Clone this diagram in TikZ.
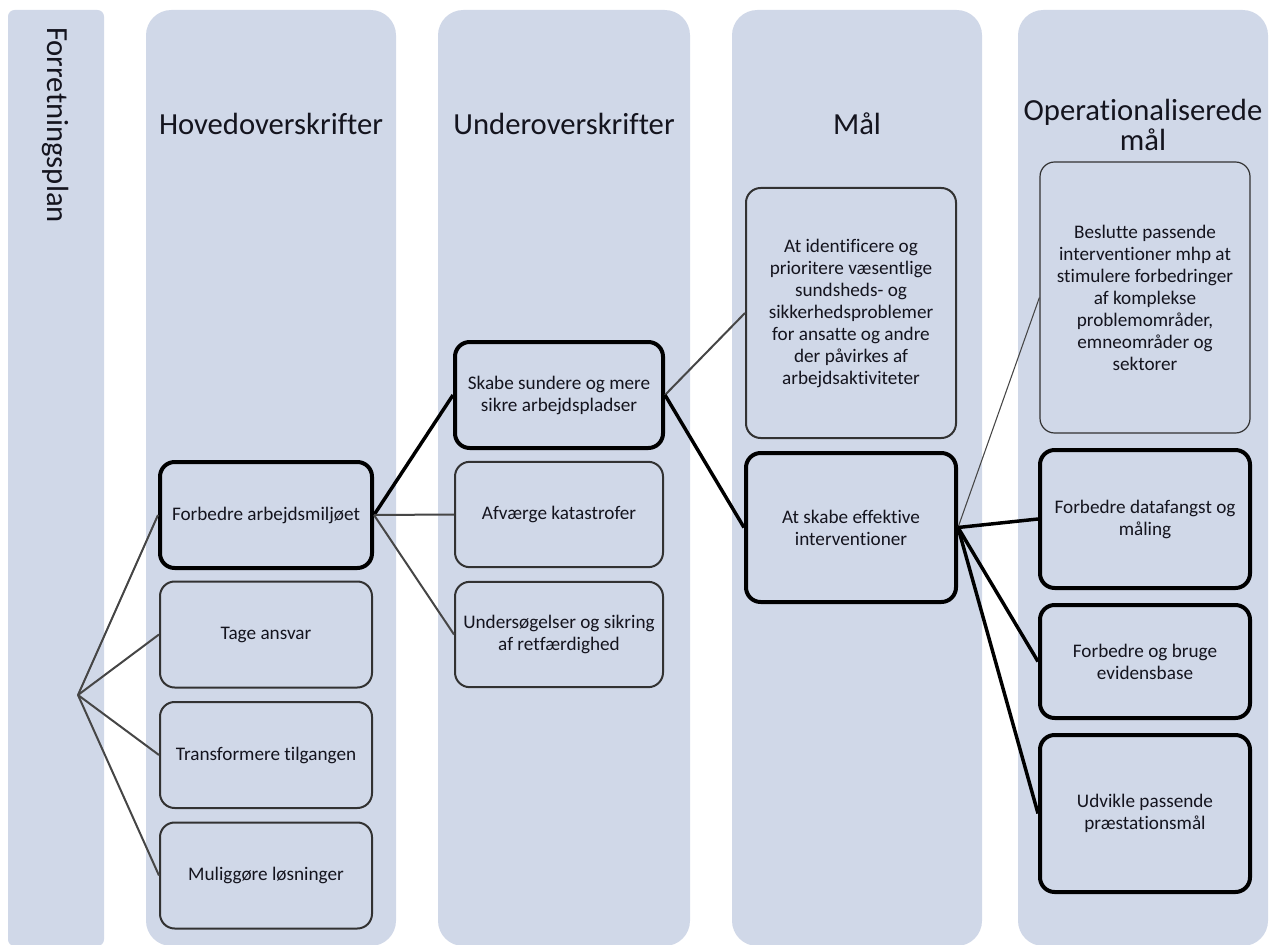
\documentclass[tikz,border=0pt]{standalone}
\usepackage{fontspec}
\setmainfont{Carlito}[Ligatures=NoCommon]
\begin{document}
\begin{tikzpicture}[x=0.75pt,y=-0.75pt,
  column/.style={fill=colbg,draw=none},
  title/.style={font=\fontsize{23}{22.5}\selectfont,text=txt,align=center},
  boxbase/.style={rectangle,rounded corners=11pt,fill=colbg,align=center,
    font=\fontsize{14.4}{16.5}\selectfont,text=txt,inner sep=2pt},
  normalbox/.style={boxbase,draw=bordergray,line width=1.5pt},
  thickbox/.style={boxbase,draw=black,line width=3pt},
  thinbox/.style={boxbase,draw=bordergray,line width=0.9pt},
  normlink/.style={draw=linegray,line width=1.5pt},
  thicklink/.style={draw=black,line width=2.6pt},
  thinlink/.style={draw=linegray,line width=0.8pt}]
\definecolor{colbg}{RGB}{208,216,232}
\definecolor{txt}{RGB}{20,20,30}
\definecolor{bordergray}{RGB}{50,50,50}
\definecolor{linegray}{RGB}{70,70,70}
\useasboundingbox (0,0) rectangle (1274,945);
\fill[white] (0,0) rectangle (1274,945);
% columns
\fill[colbg,rounded corners=5pt] (8,10) rectangle (104,946);
\fill[colbg,rounded corners=19pt] (146,10) rectangle (396,946);
\fill[colbg,rounded corners=19pt] (438,10) rectangle (690,946);
\fill[colbg,rounded corners=19pt] (732,10) rectangle (982,946);
\fill[colbg,rounded corners=19pt] (1018,10) rectangle (1268,946);
% titles
\node[title,rotate=-90] (t0) at (56,125) {Forretningsplan};
\node[title] (t1) at (271,124) {Hovedoverskrifter};
\node[title] (t2) at (564,124) {Underoverskrifter};
\node[title] (t3) at (857,124) {Mål};
\node[title] (t4) at (1143,125) {Operationaliserede\\mål};
% column 1
\node[thickbox,minimum width=159pt,minimum height=79.5pt] (h1) at (266,515) {Forbedre arbejdsmiljøet};
\node[normalbox,minimum width=159pt,minimum height=79.5pt] (h2) at (266,634.5) {Tage ansvar};
\node[normalbox,minimum width=159pt,minimum height=79.5pt] (h3) at (266,755) {Transformere tilgangen};
\node[normalbox,minimum width=159pt,minimum height=79.5pt] (h4) at (266,875.5) {Muliggøre løsninger};
% column 2
\node[thickbox,minimum width=156pt,minimum height=79.5pt] (u1) at (559,395) {Skabe sundere og mere\\sikre arbejdspladser};
\node[normalbox,minimum width=156pt,minimum height=79pt] (u2) at (559,514.5) {Afværge katastrofer};
\node[normalbox,minimum width=156pt,minimum height=79pt] (u3) at (559,634.5) {Undersøgelser og sikring\\af retfærdighed};
% column 3
\node[normalbox,minimum width=157.5pt,minimum height=187.5pt] (m1) at (851,313) {At identificere og\\prioritere væsentlige\\sundsheds- og\\sikkerhedsproblemer\\for ansatte og andre\\der påvirkes af\\arbejdsaktiviteter};
\node[thickbox,minimum width=157.5pt,minimum height=111.75pt] (m2) at (851,527.5) {At skabe effektive\\interventioner};
% column 4
\node[thinbox,minimum width=157.5pt,minimum height=203.25pt] (o1) at (1145,297.5) {Beslutte passende\\interventioner mhp at\\stimulere forbedringer\\af komplekse\\problemområder,\\emneområder og\\sektorer};
\node[thickbox,minimum width=157.5pt,minimum height=103.5pt] (o2) at (1145,519) {Forbedre datafangst og\\måling};
\node[thickbox,minimum width=157.5pt,minimum height=84.75pt] (o3) at (1145,661.5) {Forbedre og bruge\\evidensbase};
\node[thickbox,minimum width=157.5pt,minimum height=117.75pt] (o4) at (1145,813.5) {Udvikle passende\\præstationsmål};
% connectors
\coordinate (fan) at (78,695);
\draw[normlink] (fan) -- (h1.west);
\draw[normlink] (fan) -- (h2.west);
\draw[normlink] (fan) -- (h3.west);
\draw[normlink] (fan) -- (h4.west);
\draw[thicklink] (h1.east) -- (u1.west);
\draw[normlink] (h1.east) -- (u2.west);
\draw[normlink] (h1.east) -- (u3.west);
\draw[normlink] (u1.east) -- (m1.west);
\draw[thicklink] (u1.east) -- (m2.west);
\draw[thinlink] (m2.east) -- (o1.west);
\draw[thicklink] (m2.east) -- (o2.west);
\draw[thicklink] (m2.east) -- (o3.west);
\draw[thicklink] (m2.east) -- (o4.west);
\end{tikzpicture}
\end{document}
